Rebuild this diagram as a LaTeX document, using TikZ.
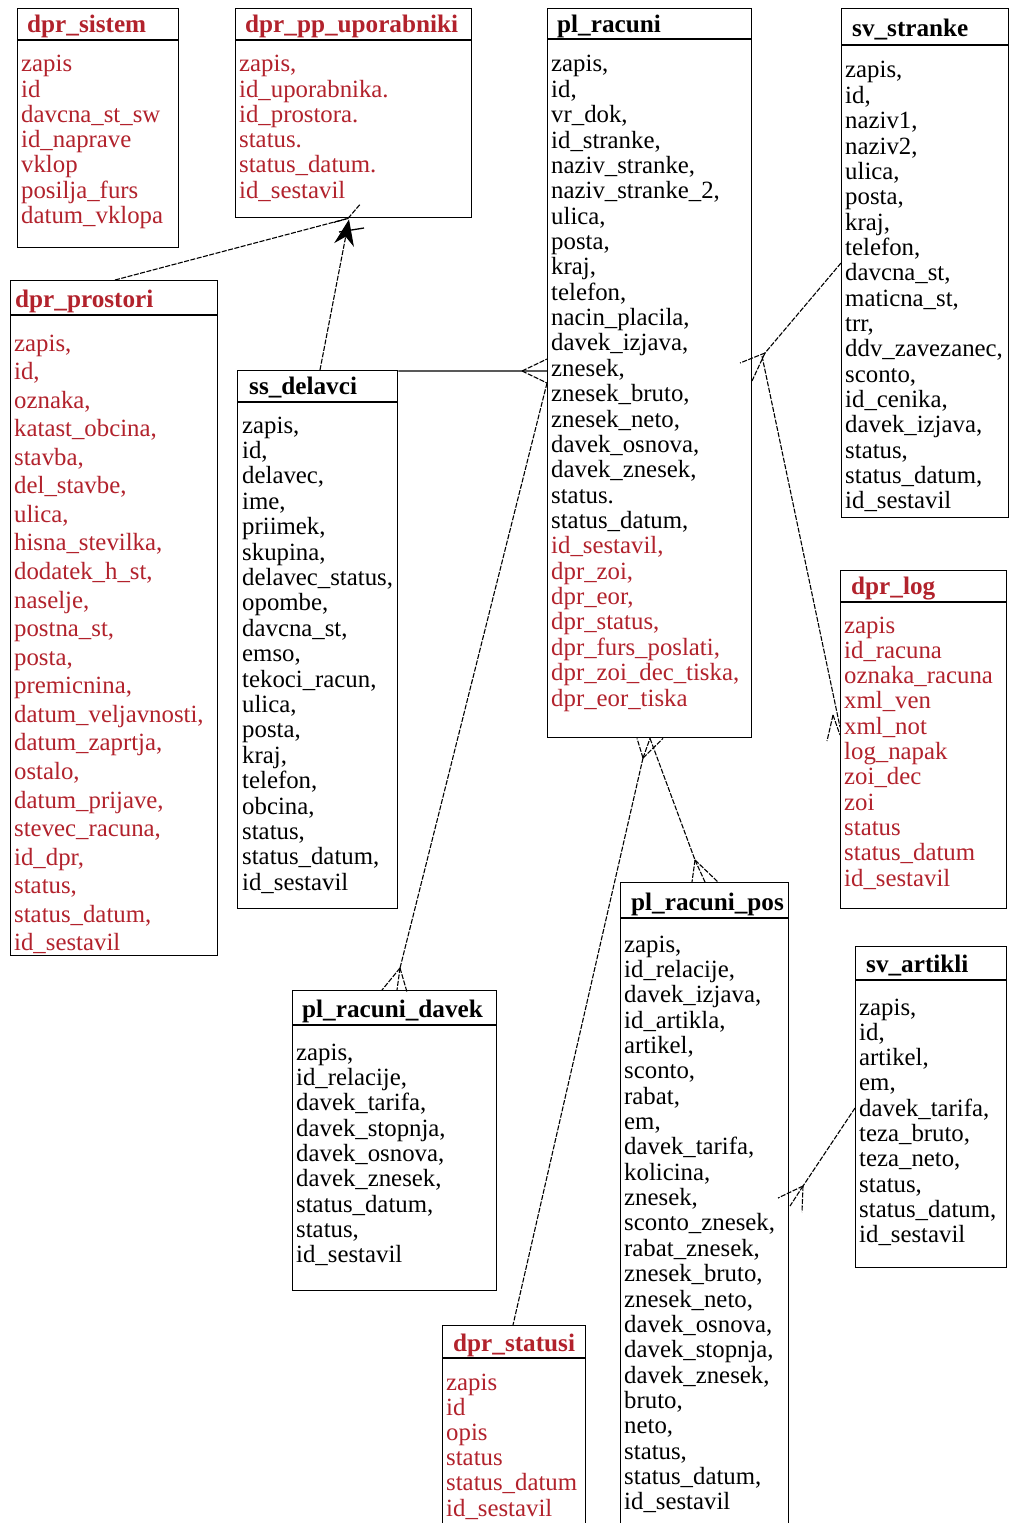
\documentclass[tikz,border=0pt]{standalone}
\usepackage{fontspec}
\setmainfont{Liberation Serif}
\usetikzlibrary{arrows.meta}
\definecolor{dred}{RGB}{178,34,44}
\tikzset{
  tbl/.style={draw=black, line width=1.4bp, fill=none, inner sep=0pt, rectangle},
  boxline/.style={draw=black, line width=1.4bp},
  hdr/.style={font=\fontsize{25.2bp}{28bp}\selectfont\bfseries, inner sep=0pt},
  body/.style={inner sep=0pt},
  conn/.style={draw=black, line width=1.1bp, dash pattern=on 5bp off 1.5bp},
  solidconn/.style={draw=black, line width=1.3bp},
}
\newcommand\erbox[6]{%
  \node[tbl, minimum width=#4bp, minimum height=#5bp, anchor=north west] (#1) at (#2,#3) {};
  \draw[boxline] ([yshift=-#6bp]#1.north west) -- ([yshift=-#6bp]#1.north east);
}
\newcommand\bodyfont[1]{\fontsize{24.8bp}{#1bp}\selectfont}
\begin{document}
\begin{tikzpicture}[x=1bp,y=-1bp]
\useasboundingbox (0,0) rectangle (1010,1523);
\fill[white] (0,0) rectangle (1010,1523);
\clip (0,0) rectangle (1010,1523);

% ---------- boxes ----------
\erbox{sistem}{17}{8}{161}{239}{32}
\erbox{ppupo}{235}{8}{236}{209}{32}
\erbox{racuni}{547}{8}{204}{729}{31}
\erbox{stranke}{841}{8}{167}{509}{37}
\erbox{prostori}{10}{280}{207}{675}{35}
\erbox{delavci}{237}{370}{160}{538}{32}
\erbox{log}{840}{570}{166}{338}{32}
\erbox{pos}{620}{882}{168}{660}{36}
\erbox{artikli}{855}{946}{151}{321}{34}
\erbox{davek}{292}{990}{204}{300}{35}
\erbox{statusi}{442}{1325}{143}{220}{33}

% ---------- titles ----------
\node[hdr, text=dred, anchor=base west] (sistem-t) at (27,33) {dpr\_sistem};
\node[hdr, text=dred, anchor=base west] (ppupo-t) at (245,33) {dpr\_pp\_uporabniki};
\node[hdr, anchor=base west] (racuni-t) at (557,33) {pl\_racuni};
\node[hdr, anchor=base west] (stranke-t) at (852,37) {sv\_stranke};
\node[hdr, text=dred, anchor=base west] (prostori-t) at (15,307) {dpr\_prostori};
\node[hdr, anchor=base west] (delavci-t) at (249,394) {ss\_delavci};
\node[hdr, text=dred, anchor=base west] (log-t) at (851,594) {dpr\_log};
\node[hdr, anchor=base west] (pos-t) at (631,910) {pl\_racuni\_pos};
\node[hdr, anchor=base west] (artikli-t) at (866,972) {sv\_artikli};
\node[hdr, anchor=base west] (davek-t) at (302,1017) {pl\_racuni\_davek};
\node[hdr, text=dred, anchor=base west] (statusi-t) at (453,1351) {dpr\_statusi};

% ---------- bodies ----------
\node[body, text=dred, anchor=base west] (sistem-b) at (21,72) {\parbox[t]{300bp}{\bodyfont{25.2}%
zapis\\id\\davcna\_st\_sw\\id\_naprave\\vklop\\posilja\_furs\\datum\_vklopa}};

\node[body, text=dred, anchor=base west] (ppupo-b) at (239,72) {\parbox[t]{300bp}{\bodyfont{25.2}%
zapis,\\id\_uporabnika.\\id\_prostora.\\status.\\status\_datum.\\id\_sestavil}};

\node[body, anchor=base west] (racuni-b) at (551,72) {\parbox[t]{300bp}{\bodyfont{25.36}%
zapis,\\id,\\vr\_dok,\\id\_stranke,\\naziv\_stranke,\\naziv\_stranke\_2,\\ulica,\\posta,\\kraj,\\telefon,\\nacin\_placila,\\davek\_izjava,\\znesek,\\znesek\_bruto,\\znesek\_neto,\\davek\_osnova,\\davek\_znesek,\\status.\\status\_datum,\\\color{dred}id\_sestavil,\\dpr\_zoi,\\dpr\_eor,\\dpr\_status,\\dpr\_furs\_poslati,\\dpr\_zoi\_dec\_tiska,\\dpr\_eor\_tiska}};

\node[body, anchor=base west] (stranke-b) at (845,78) {\parbox[t]{300bp}{\bodyfont{25.35}%
zapis,\\id,\\naziv1,\\naziv2,\\ulica,\\posta,\\kraj,\\telefon,\\davcna\_st,\\maticna\_st,\\trr,\\ddv\_zavezanec,\\sconto,\\id\_cenika,\\davek\_izjava,\\status,\\status\_datum,\\id\_sestavil}};

\node[body, text=dred, anchor=base west] (prostori-b) at (14,351) {\parbox[t]{300bp}{\bodyfont{28.57}%
zapis,\\id,\\oznaka,\\katast\_obcina,\\stavba,\\del\_stavbe,\\ulica,\\hisna\_stevilka,\\dodatek\_h\_st,\\naselje,\\postna\_st,\\posta,\\premicnina,\\datum\_veljavnosti,\\datum\_zaprtja,\\ostalo,\\datum\_prijave,\\stevec\_racuna,\\id\_dpr,\\status,\\status\_datum,\\id\_sestavil}};

\node[body, anchor=base west] (delavci-b) at (242,433) {\parbox[t]{300bp}{\bodyfont{25.4}%
zapis,\\id,\\delavec,\\ime,\\priimek,\\skupina,\\delavec\_status,\\opombe,\\davcna\_st,\\emso,\\tekoci\_racun,\\ulica,\\posta,\\kraj,\\telefon,\\obcina,\\status,\\status\_datum,\\id\_sestavil}};

\node[body, text=dred, anchor=base west] (log-b) at (844,633) {\parbox[t]{300bp}{\bodyfont{25.3}%
zapis\\id\_racuna\\oznaka\_racuna\\xml\_ven\\xml\_not\\log\_napak\\zoi\_dec\\zoi\\status\\status\_datum\\id\_sestavil}};

\node[body, anchor=base west] (pos-b) at (624,952) {\parbox[t]{300bp}{\bodyfont{25.36}%
zapis,\\id\_relacije,\\davek\_izjava,\\id\_artikla,\\artikel,\\sconto,\\rabat,\\em,\\davek\_tarifa,\\kolicina,\\znesek,\\sconto\_znesek,\\rabat\_znesek,\\znesek\_bruto,\\znesek\_neto,\\davek\_osnova,\\davek\_stopnja,\\davek\_znesek,\\bruto,\\neto,\\status,\\status\_datum,\\id\_sestavil}};

\node[body, anchor=base west] (artikli-b) at (859,1015) {\parbox[t]{300bp}{\bodyfont{25.3}%
zapis,\\id,\\artikel,\\em,\\davek\_tarifa,\\teza\_bruto,\\teza\_neto,\\status,\\status\_datum,\\id\_sestavil}};

\node[body, anchor=base west] (davek-b) at (296,1060) {\parbox[t]{300bp}{\bodyfont{25.35}%
zapis,\\id\_relacije,\\davek\_tarifa,\\davek\_stopnja,\\davek\_osnova,\\davek\_znesek,\\status\_datum,\\status,\\id\_sestavil}};

\node[body, text=dred, anchor=base west] (statusi-b) at (446,1390) {\parbox[t]{300bp}{\bodyfont{25.2}%
zapis\\id\\opis\\status\\status\_datum\\id\_sestavil}};

% ---------- connector points ----------
\coordinate (l1s) at ([xshift=105bp]prostori.north west);
\coordinate (l1e) at ([xshift=113bp]ppupo.south west);
\coordinate (l2s) at ([xshift=83bp]delavci.north west);
\coordinate (l2e) at ([xshift=114bp,yshift=-1bp]ppupo.south west);
\coordinate (l3s) at ([yshift=-1bp]delavci.north east);
\coordinate (l3e) at ([yshift=-363bp]racuni.north west);
\coordinate (l3a) at (522,371);
\coordinate (l4s) at ([yshift=-375bp]racuni.north west);
\coordinate (l4a) at (400,968);
\coordinate (l5s) at ([yshift=-255bp]stranke.north west);
\coordinate (l5a) at (765,353);
\coordinate (l6s) at (762,356);
\coordinate (l6e) at ([yshift=-157bp]log.north west);
\coordinate (l6a) at (833,715);
\coordinate (l7s) at ([xshift=103bp]racuni.south west);
\coordinate (l7a) at (695,860);
\coordinate (l8a) at (643,758);
\coordinate (l8e) at ([xshift=71bp]statusi.north west);
\coordinate (l9s) at ([yshift=-162bp]artikli.north west);
\coordinate (l9a) at (803,1186);

% ---------- connectors ----------
% dpr_prostori -> dpr_pp_uporabniki
\draw[conn] (l1s) -- (l1e);
\draw[conn] (l1e) -- ++(12,-14);
\draw[conn] (l1e) -- ++(-14,4);
% ss_delavci -> dpr_pp_uporabniki
\draw[conn, -{Stealth[length=26bp,width=20bp]}] (l2s) -- (l2e);
\draw[solidconn] (339,232) -- (364,228);
% ss_delavci -> pl_racuni
\draw[solidconn] (l3s) -- (l3e);
\draw[conn] (l3a) -- ([yshift=12bp]l3e);
\draw[conn] (l3a) -- ([yshift=-12bp]l3e);
% pl_racuni -> pl_racuni_davek
\draw[conn] (l4s) -- (l4a);
\draw[conn] (l4a) -- ([xshift=90bp]davek.north west);
\draw[conn] (l4a) -- ([xshift=105bp]davek.north west);
\draw[conn] (l4a) -- ([xshift=115bp,yshift=-2bp]davek.north west);
% sv_stranke -> pl_racuni
\draw[conn] (l5s) -- (l5a);
\draw[conn] (l5a) -- (740,363);
\draw[conn] (l5a) -- (752,381);
% pl_racuni -> dpr_log
\draw[conn] (l6s) -- (l6e);
\draw[conn] (l6a) -- (827,741);
\draw[conn] (l6a) -- ([yshift=-8bp]l6e);
% pl_racuni -> pl_racuni_pos
\draw[conn] (l7s) -- (l7a);
\draw[conn] (l7a) -- ([xshift=72bp]pos.north west);
\draw[conn] (l7a) -- ([xshift=85bp]pos.north west);
\draw[conn] (l7a) -- ([xshift=98bp]pos.north west);
% pl_racuni -> dpr_statusi
\draw[conn] (l8a) -- ([xshift=90bp]racuni.south west);
\draw[conn] (l8a) -- ([xshift=103bp]racuni.south west);
\draw[conn] (l8a) -- ([xshift=116bp]racuni.south west);
\draw[conn] (l8a) -- (l8e);
% sv_artikli -> pl_racuni_pos
\draw[conn] (l9s) -- (l9a);
\draw[conn] (l9a) -- (778,1198);
\draw[conn] (l9a) -- (790,1206);
\draw[conn] (l9a) -- (802,1212);
\end{tikzpicture}
\end{document}
